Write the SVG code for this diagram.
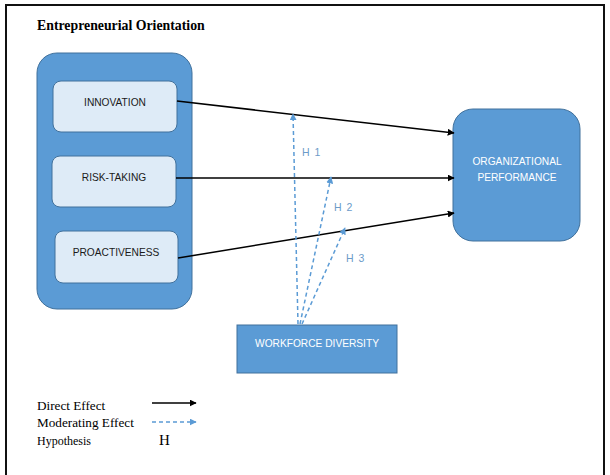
<svg xmlns="http://www.w3.org/2000/svg" width="610" height="475" viewBox="0 0 610 475">
<style>
.outer{fill:#5B9BD5;stroke:#41719C;stroke-width:1}
.inner{fill:#DEEBF7;stroke:#41719C;stroke-width:1}
.lbl{font-family:"Liberation Sans",Arial,sans-serif;font-size:10.2px;fill:#1a1a1a;text-anchor:middle}
.wlbl{font-family:"Liberation Sans",Arial,sans-serif;font-size:10.2px;fill:#ffffff;text-anchor:middle}
.direct{stroke:#000;stroke-width:1.5;fill:none;marker-end:url(#ah)}
.mod{stroke:#5B9BD5;stroke-width:1.5;stroke-dasharray:4 3;fill:none;marker-end:url(#ahb)}
.hl{font-family:"Liberation Sans",Arial,sans-serif;font-size:10.5px;fill:#6C9BC9}
.serif{font-family:"Liberation Serif","Times New Roman",serif;fill:#000}
</style>
<defs>
<marker id="ah" viewBox="0 0 10 10" refX="9" refY="5" markerWidth="7" markerHeight="7" orient="auto" markerUnits="userSpaceOnUse">
<path d="M0,0 L10,5 L0,10 z" fill="#000"/>
</marker>
<marker id="ahb" viewBox="0 0 10 10" refX="9" refY="5" markerWidth="7" markerHeight="7" orient="auto" markerUnits="userSpaceOnUse">
<path d="M0,0 L10,5 L0,10 z" fill="#5B9BD5"/>
</marker>
</defs>
<rect x="0" y="0" width="610" height="475" fill="#fff"/>
<path d="M6,476 V5 H604 V476" fill="none" stroke="#111" stroke-width="2"/>
<text class="serif" x="37" y="30" font-size="13.8" font-weight="bold">Entrepreneurial Orientation</text>

<g id="eo-group">
<rect class="outer" x="37" y="53" width="155" height="256" rx="20" ry="20"/>
</g>
<g id="innovation">
<rect class="inner" x="53" y="81" width="124" height="51" rx="8" ry="8"/>
<text class="lbl" x="115" y="106" font-size="11.2">INNOVATION</text>
</g>
<g id="risk-taking">
<rect class="inner" x="52" y="156" width="124" height="51" rx="8" ry="8"/>
<text class="lbl" x="114" y="181" font-size="10.6">RISK-TAKING</text>
</g>
<g id="proactiveness">
<rect class="inner" x="55" y="231" width="123" height="52" rx="8" ry="8"/>
<text class="lbl" x="116" y="256">PROACTIVENESS</text>
</g>
<g id="org-performance">
<rect class="outer" x="453" y="109" width="127" height="132" rx="20" ry="20"/>
<text class="wlbl" x="517" y="165" font-size="10.6">ORGANIZATIONAL</text>
<text class="wlbl" x="517" y="181" font-size="10.6">PERFORMANCE</text>
</g>
<g id="workforce-diversity">
<rect class="outer" x="237" y="325" width="160" height="48"/>
<text class="wlbl" x="317" y="347">WORKFORCE DIVERSITY</text>
</g>

<g id="connectors">
<line class="direct" x1="177" y1="101" x2="454" y2="133"/>
<line class="direct" x1="176" y1="178" x2="454" y2="178"/>
<line class="direct" x1="178" y1="258" x2="454" y2="213"/>
<line class="mod" x1="298" y1="324" x2="293" y2="114"/>
<line class="mod" x1="300" y1="324" x2="331" y2="177"/>
<line class="mod" x1="302" y1="324" x2="345" y2="228"/>
<text class="hl" x="302" y="156" letter-spacing="1">H 1</text>
<text class="hl" x="334" y="211" letter-spacing="1">H 2</text>
<text class="hl" x="346" y="262" letter-spacing="1">H 3</text>
</g>

<g id="legend">
<text class="serif" x="37" y="410" font-size="13.2">Direct Effect</text>
<text class="serif" x="37" y="427" font-size="13.2">Moderating Effect</text>
<text class="serif" x="37" y="445" font-size="12">Hypothesis</text>
<text class="serif" x="159" y="445" font-size="15">H</text>
<line class="direct" x1="152" y1="403" x2="196" y2="403"/>
<line class="mod" x1="152" y1="422" x2="196" y2="422"/>
</g>
</svg>
